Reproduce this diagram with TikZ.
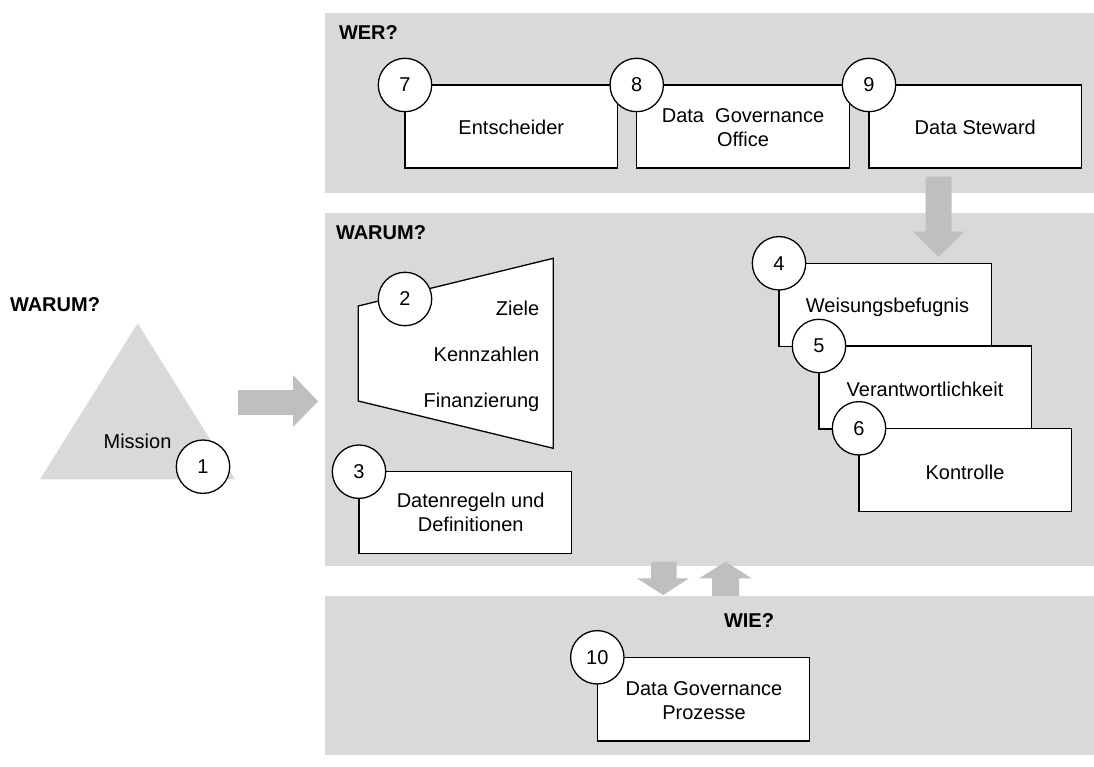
\documentclass[tikz,border=0pt]{standalone}
\usepackage{fontspec}
\setmainfont{Liberation Sans}
\definecolor{panelgray}{HTML}{D9D9D9}
\definecolor{arrowgray}{HTML}{BFBFBF}
\begin{document}
\begin{tikzpicture}[x=1pt,y=-1pt,
  every node/.style={font=\fontsize{20}{24}\selectfont, inner sep=0pt, outer sep=0pt, text=black},
  panel/.style={fill=panelgray, draw=none},
  blockarrow/.style={fill=arrowgray, draw=none},
  boxnode/.style={draw=black, fill=white, line width=1.3pt, rectangle,
    minimum width=212.5pt, minimum height=83pt, anchor=north west},
  num/.style={circle, draw=black, fill=white, line width=1.3pt, minimum size=53.4pt},
  heading/.style={font=\fontsize{20}{24}\selectfont\bfseries, anchor=base west},
  txt/.style={anchor=base},
  txtml/.style={align=center, anchor=center},
]
\useasboundingbox (0,0) rectangle (1094,767);

% background panels
\fill[panel] (325,13) rectangle (1094,193);
\fill[panel] (325,213) rectangle (1094,566);
\fill[panel] (325,596) rectangle (1094,755);

% mission triangle
\fill[panelgray] (137.7,323.3) -- (235,479.3) -- (40,479.3) -- cycle;

% block arrows
\fill[blockarrow] (238,390) -- (293,390) -- (293,375) -- (318,401.5) -- (293,427) -- (293,415) -- (238,415) -- cycle;
\fill[blockarrow] (925.7,176.7) -- (951.5,176.7) -- (951.5,231.7) -- (964,231.7) -- (938.5,257) -- (913,231.7) -- (925.7,231.7) -- cycle;
\fill[blockarrow] (651,561.7) -- (676.7,561.7) -- (676.7,578.3) -- (689,578.3) -- (663.3,595) -- (637,578.3) -- (651,578.3) -- cycle;
\fill[blockarrow] (712,596) -- (739,596) -- (739,578.3) -- (751.7,578.3) -- (725.5,561.7) -- (699.3,578.3) -- (712,578.3) -- cycle;

% WER row
\node[boxnode] (b7) at (405,85) {};
\node[boxnode] (b8) at (636.7,85) {};
\node[boxnode] (b9) at (869,85) {};
\node[num] (n7) at (b7.north west) {7};
\node[num] (n8) at (b8.north west) {8};
\node[num] (n9) at (b9.north west) {9};

% goals shape
\draw[fill=white, line width=1.3pt, line join=miter] (358.3,306) -- (553.3,258.3) -- (553.3,448.3) -- (358.3,401) -- cycle;
\node[num] (n2) at (405,299) {2};

% data rules
\node[boxnode, minimum height=81.6pt] (b3) at (359,471.7) {};
\node[num] (n3) at (b3.north west) {3};

% stacked boxes
\node[boxnode] (b4) at (779,263.3) {};
\node[num] (n4) at (b4.north west) {4};
\node[boxnode] (b5) at (819,346) {};
\node[num] (n5) at (b5.north west) {5};
\node[boxnode] (b6) at (859,428.3) {};
\node[num] (n6) at (b6.north west) {6};

% processes
\node[boxnode, minimum height=83.7pt] (b10) at (597.3,657.3) {};
\node[num] (n10) at (b10.north west) {10};

% mission marker
\node[num] (n1) at (203,466.7) {1};

% headings
\node[heading] (hwer) at (339,39.3) {WER?};
\node[heading] (hwarum) at (336,239.3) {WARUM?};
\node[heading] (hwarumleft) at (10,311.7) {WARUM?};
\node[heading] (hwie) at (724,627.3) {WIE?};

% texts
\node[txt] (tmission) at (137.5,448.3) {Mission};
\node[txt] (t7) at (511.3,135) {Entscheider};
\node[txtml] (t8) at (743,127.4) {Data\ \ Governance\\Office};
\node[txt] (t9) at (975.3,135) {Data Steward};
\node[anchor=base east] (tziele) at (539.3,315) {Ziele};
\node[anchor=base east] (tkenn) at (539.3,361.3) {Kennzahlen};
\node[anchor=base east] (tfin) at (539.3,407) {Finanzierung};
\node[txtml] (t3) at (470.7,512.7) {Datenregeln und\\Definitionen};
\node[txt] (t4) at (887.5,312.7) {Weisungsbefugnis};
\node[txt] (t5) at (925,396.7) {Verantwortlichkeit};
\node[txt] (t6) at (965,479.3) {Kontrolle};
\node[txtml] (t10) at (704,700.7) {Data Governance\\Prozesse};
\end{tikzpicture}
\end{document}
